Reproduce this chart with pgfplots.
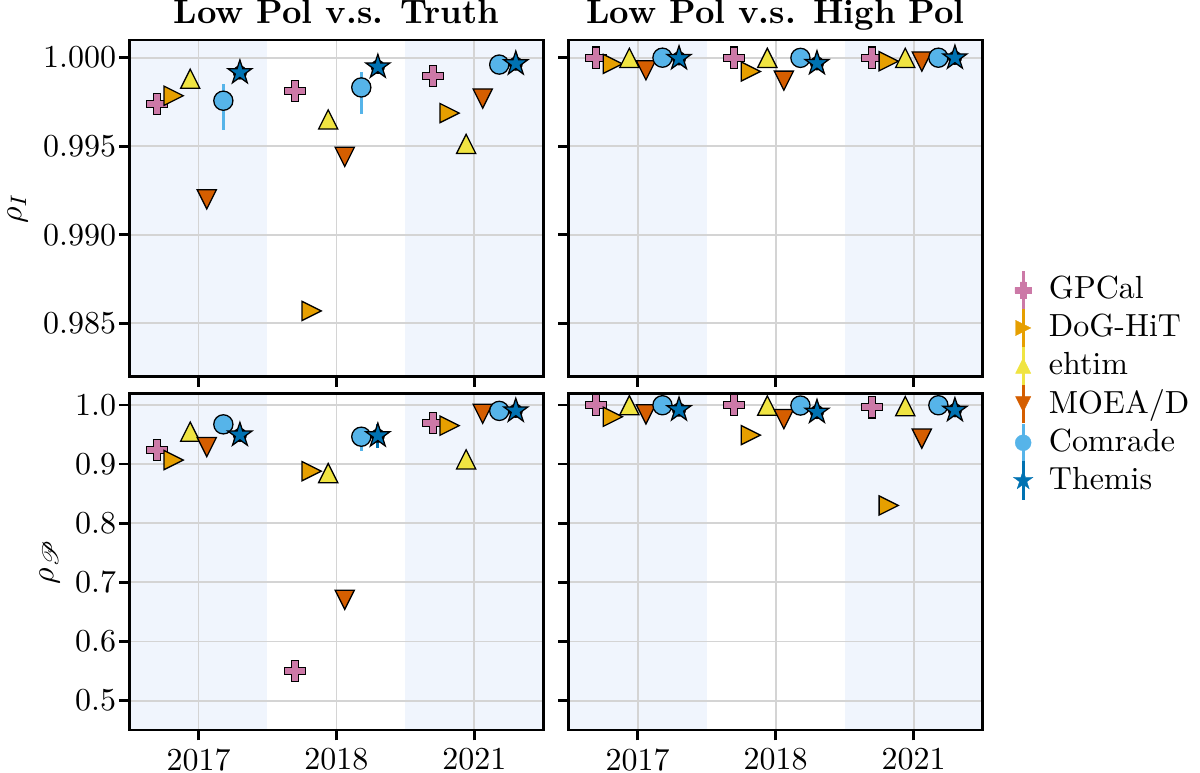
\documentclass[border=0pt]{standalone}
\usepackage{pgfplots}
\usepackage{pgfplotstable}
\usepackage{mathrsfs}
\pgfplotsset{compat=1.18}
\usepgfplotslibrary{groupplots}

% Okabe-Ito palette
\definecolor{cGP}{HTML}{CC79A7}
\definecolor{cDH}{HTML}{E69F00}
\definecolor{cEH}{HTML}{F0E442}
\definecolor{cMO}{HTML}{D55E00}
\definecolor{cCO}{HTML}{56B4E9}
\definecolor{cTH}{HTML}{0072B2}
\definecolor{band}{RGB}{240,245,253}

% filled marker shapes
\def\mk#1#2{\pgfqpoint{#1\pgfplotmarksize}{#2\pgfplotmarksize}}
\pgfdeclareplotmark{mplus}{%
  \pgfpathmoveto{\mk{-.3333}{-1}}\pgfpathlineto{\mk{-.3333}{-.3333}}%
  \pgfpathlineto{\mk{-1}{-.3333}}\pgfpathlineto{\mk{-1}{.3333}}%
  \pgfpathlineto{\mk{-.3333}{.3333}}\pgfpathlineto{\mk{-.3333}{1}}%
  \pgfpathlineto{\mk{.3333}{1}}\pgfpathlineto{\mk{.3333}{.3333}}%
  \pgfpathlineto{\mk{1}{.3333}}\pgfpathlineto{\mk{1}{-.3333}}%
  \pgfpathlineto{\mk{.3333}{-.3333}}\pgfpathlineto{\mk{.3333}{-1}}%
  \pgfpathclose\pgfusepathqfillstroke}
\pgfdeclareplotmark{mtriu}{%
  \pgfpathmoveto{\mk{0}{1}}\pgfpathlineto{\mk{-1}{-1}}\pgfpathlineto{\mk{1}{-1}}%
  \pgfpathclose\pgfusepathqfillstroke}
\pgfdeclareplotmark{mtrid}{%
  \pgfpathmoveto{\mk{0}{-1}}\pgfpathlineto{\mk{-1}{1}}\pgfpathlineto{\mk{1}{1}}%
  \pgfpathclose\pgfusepathqfillstroke}
\pgfdeclareplotmark{mtrir}{%
  \pgfpathmoveto{\mk{1}{0}}\pgfpathlineto{\mk{-1}{1}}\pgfpathlineto{\mk{-1}{-1}}%
  \pgfpathclose\pgfusepathqfillstroke}
\pgfdeclareplotmark{mstar}{%
  \pgfpathmoveto{\mk{0}{1}}\pgfpathlineto{\mk{-.2245}{.3090}}%
  \pgfpathlineto{\mk{-.9511}{.3090}}\pgfpathlineto{\mk{-.3633}{-.1180}}%
  \pgfpathlineto{\mk{-.5878}{-.8090}}\pgfpathlineto{\mk{0}{-.3820}}%
  \pgfpathlineto{\mk{.5878}{-.8090}}\pgfpathlineto{\mk{.3633}{-.1180}}%
  \pgfpathlineto{\mk{.9511}{.3090}}\pgfpathlineto{\mk{.2245}{.3090}}%
  \pgfpathclose\pgfusepathqfillstroke}

\pgfplotsset{
  ser/.style n args={3}{only marks, mark=#1, mark size=#3, forget plot,
    mark options={fill=#2, draw=black, line width=0.4pt}},
  ebar/.style={forget plot, only marks, mark=none,
    error bars/.cd, y dir=both, y explicit, error mark=none,
    error bar style={draw=#1, line width=1pt}},
  bandfill/.style={fill=band, draw=none, forget plot, on layer=axis background},
}

% correlation values; idx 0,1,2 = 2017, 2018, 2021
\pgfplotstableread{
idx GP      DH      EH      MO      CO      COp     COm     TH      THp  THm
0   0.99739 0.99785 0.99881 0.99200 0.99757 0.00092 0.00167 0.99916 0    0
1   0.99812 0.98570 0.99651 0.99440 0.99832 0.00088 0.00149 0.99948 0    0
2   0.99896 0.99687 0.99513 0.99769 0.99961 0       0       0.99966 0    0
}\tabTL
\pgfplotstableread{
idx GP      DH      EH      MO      CO      COp     COm     TH      THp  THm
0   1.00000 0.99965 0.99999 0.99929 1.00000 0       0       0.99996 0    0
1   1.00000 0.99922 0.99999 0.99870 0.99999 0       0       0.99968 0    0
2   1.00000 0.99980 0.99999 0.99978 1.00000 0       0       0.99999 0    0
}\tabTR
\pgfplotstableread{
idx GP     DH     EH     MO     CO     COp    COm    TH     THp    THm
0   0.9237 0.9068 0.9548 0.9288 0.9672 0      0      0.9492 0      0
1   0.5503 0.8880 0.8847 0.6706 0.9463 0.0170 0.0250 0.9480 0.0200 0.0200
2   0.9690 0.9650 0.9080 0.9850 0.9900 0      0      0.9900 0      0
}\tabBL
\pgfplotstableread{
idx GP     DH     EH     MO     CO     COp    COm    TH     THp    THm
0   0.9995 0.9800 0.9995 0.9840 0.9995 0      0      0.9920 0      0
1   0.9995 0.9490 0.9990 0.9760 0.9990 0      0      0.9880 0      0
2   0.9960 0.8300 0.9980 0.9430 0.9995 0      0      0.9910 0      0
}\tabBR

% one panel: shaded year bands, error bars, then the six methods
\newcommand\panel[1]{%
  \addplot[bandfill] coordinates {(-0.5,0.3) (0.5,0.3) (0.5,1.2) (-0.5,1.2)} -- cycle;
  \addplot[bandfill] coordinates {(1.5,0.3) (2.5,0.3) (2.5,1.2) (1.5,1.2)} -- cycle;
  \addplot[ebar=cCO] table[x expr=\thisrow{idx}+0.18, y=CO, y error plus=COp, y error minus=COm] {#1};
  \addplot[ebar=cTH] table[x expr=\thisrow{idx}+0.30, y=TH, y error plus=THp, y error minus=THm] {#1};
  \addplot[ser={mplus}{cGP}{3.3pt}] table[x expr=\thisrow{idx}-0.30, y=GP] {#1};
  \addplot[ser={mtrir}{cDH}{3.0pt}] table[x expr=\thisrow{idx}-0.18, y=DH] {#1};
  \addplot[ser={mtriu}{cEH}{3.0pt}] table[x expr=\thisrow{idx}-0.06, y=EH] {#1};
  \addplot[ser={mtrid}{cMO}{3.0pt}] table[x expr=\thisrow{idx}+0.06, y=MO] {#1};
  \addplot[ser={*}{cCO}{3.0pt}]     table[x expr=\thisrow{idx}+0.18, y=CO] {#1};
  \addplot[ser={mstar}{cTH}{3.95pt}] table[x expr=\thisrow{idx}+0.30, y=TH] {#1};
}

% legend entry: errorbar-style vertical stroke with the marker on it
\newcommand\legitem[4]{%
  \addlegendimage{legend image code/.code={%
    \draw[#1, line width=1pt, overlay] (0pt,-6pt) -- (0pt,6pt);
    \draw[draw=#1, fill=#1, line width=0.1pt] plot[mark=#2, mark size=#3] coordinates {(0pt,0pt)};}}
  \addlegendentry{#4}}

\begin{document}
\begin{tikzpicture}
\begin{groupplot}[
  group style={group size=2 by 2, horizontal sep=7.9pt, vertical sep=5.4pt,
    xticklabels at=edge bottom, yticklabels at=edge left},
  width=129.4pt, height=105.2pt, scale only axis,
  set layers, clip mode=individual,
  xmin=-0.5, xmax=2.5, xtick={0,1,2}, xticklabels={2017,2018,2021},
  tick align=outside, xtick pos=bottom, ytick pos=left,
  major tick length=3.2pt,
  every tick/.style={black, line width=0.8pt},
  axis line style={line width=0.8pt},
  grid=major, major grid style={black!17, line width=0.6pt},
  tick label style={font=\normalsize},
  xticklabel shift=-1pt, yticklabel shift=-2.5pt, ylabel shift=-2pt,
  every axis title shift=0pt,
  title style={font=\fontsize{10.6}{13}\selectfont\bfseries,
    at={(0.5,1)}, anchor=base, yshift=5pt},
  legend cell align=left,
]
\nextgroupplot[title={Low Pol v.s. Truth}, ymin=0.982, ymax=1.001,
  ytick={0.985,0.990,0.995,1.000}, ylabel={$\rho_I$},
  yticklabel style={/pgf/number format/.cd, fixed, fixed zerofill, precision=3}]
\panel{\tabTL}

\nextgroupplot[title={Low Pol v.s. High Pol}, ymin=0.982, ymax=1.001,
  ytick={0.985,0.990,0.995,1.000},
  legend style={draw=none, fill=none, at={(1.05,-0.026)}, anchor=west,
    font=\normalsize, row sep=-0.7pt, column sep=3pt}]
\panel{\tabTR}
\legitem{cGP}{mplus}{2.6pt}{GPCal}
\legitem{cDH}{mtrir}{2.4pt}{DoG-HiT}
\legitem{cEH}{mtriu}{2.4pt}{ehtim}
\legitem{cMO}{mtrid}{2.4pt}{MOEA/D}
\legitem{cCO}{*}{2.5pt}{Comrade}
\legitem{cTH}{mstar}{3.2pt}{Themis}

\nextgroupplot[ymin=0.45, ymax=1.019, ytick={0.5,0.6,0.7,0.8,0.9,1.0},
  ylabel={$\rho_{\mathscr{P}}$},
  yticklabel style={/pgf/number format/.cd, fixed, fixed zerofill, precision=1}]
\panel{\tabBL}

\nextgroupplot[ymin=0.45, ymax=1.019, ytick={0.5,0.6,0.7,0.8,0.9,1.0}]
\panel{\tabBR}
\end{groupplot}
% page frame around the panels, titles, labels and legend
\pgfresetboundingbox
\path[use as bounding box]
  ([xshift=-40.5pt, yshift=-13.1pt]group c1r2.south west) rectangle
  ([xshift=68pt, yshift=12.5pt]group c2r1.north east);
\end{tikzpicture}
\end{document}
